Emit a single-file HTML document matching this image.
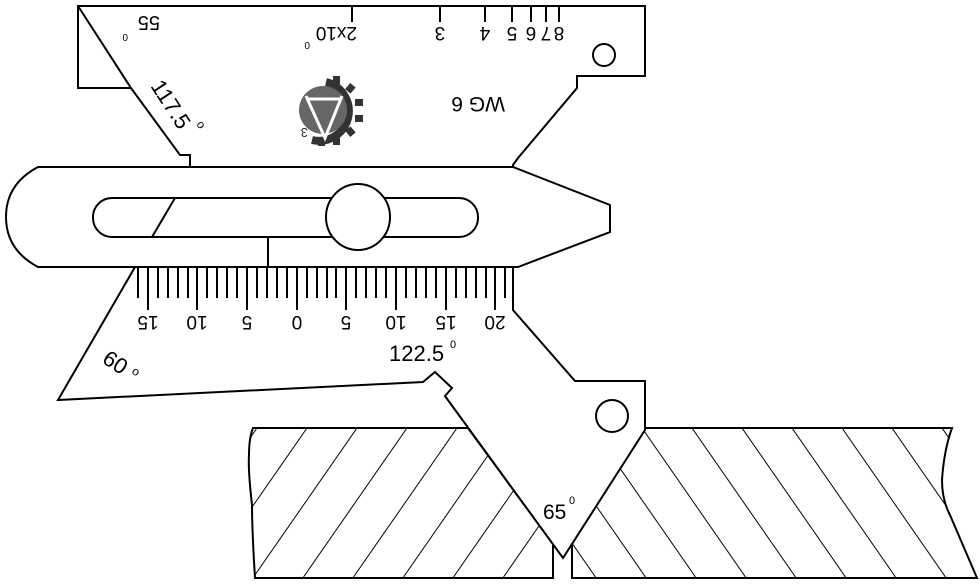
<!DOCTYPE html>
<html><head><meta charset="utf-8"><style>
html,body{margin:0;padding:0;background:#fff;}
svg{display:block;}
text{font-family:"Liberation Sans",Arial,sans-serif;fill:#000;}
</style></head><body>
<svg width="980" height="586" viewBox="0 0 980 586" xmlns="http://www.w3.org/2000/svg">
<defs>
<pattern id="hl" patternUnits="userSpaceOnUse" x="257" y="428" width="50" height="72">
<line x1="0" y1="72" x2="50" y2="0" stroke="#000" stroke-width="1"/>
<line x1="-50" y1="72" x2="0" y2="0" stroke="#000" stroke-width="1"/>
<line x1="50" y1="72" x2="100" y2="0" stroke="#000" stroke-width="1"/>
</pattern>
<pattern id="hr" patternUnits="userSpaceOnUse" x="692" y="428" width="50" height="72">
<line x1="0" y1="0" x2="50" y2="72" stroke="#000" stroke-width="1"/>
<line x1="-50" y1="0" x2="0" y2="72" stroke="#000" stroke-width="1"/>
<line x1="50" y1="0" x2="100" y2="72" stroke="#000" stroke-width="1"/>
</pattern>
</defs>
<g stroke="#000" stroke-width="2" fill="none">
<path d="M253,428 L468,428 L553,544 L553,578 L255,578 Q252,530 252,505 Q248,470 249,455 Q249,438 253,428 Z" fill="url(#hl)"/>
<path d="M645,428 L952,428 Q944,450 942,480 Q942,500 950,515 Q965,550 977,578 L572,578 L572,544 Z" fill="url(#hr)"/>
<path d="M135,267 L58,400 L423,382 L435,372 L452,388 L445,396 L563,558 L645,430 L645,381 L575,381 L513,310 L513,267 Z" fill="#fff"/>
<path d="M78,6 L645,6 L645,76 L577,76 L577,88 L518,158 L513,165 L513,170 L190,170 L190,155 L180,155 L131,88 L78,88 Z" fill="#fff"/>
<line x1="78" y1="6" x2="131" y2="88"/>
<line x1="577" y1="76" x2="645" y2="76"/>
<circle cx="604" cy="55" r="11"/>
<path d="M38,167 L513,167 L610,205 L610,232 L518,267 L38,267 Q6,250 6,217 Q6,184 38,167 Z" fill="#fff"/>
<rect x="93" y="198" width="385" height="39" rx="19" fill="#fff"/>
<line x1="175" y1="198" x2="152" y2="237"/>
<line x1="268" y1="237" x2="268" y2="267"/>
<ellipse cx="358" cy="217" rx="32" ry="33" fill="#fff"/>
<circle cx="612" cy="416" r="16"/>
<line x1="352" y1="6" x2="352" y2="22"/>
<line x1="440" y1="6" x2="440" y2="22"/>
<line x1="485" y1="6" x2="485" y2="22"/>
<line x1="512" y1="6" x2="512" y2="22"/>
<line x1="531" y1="6" x2="531" y2="22"/>
<line x1="546" y1="6" x2="546" y2="22"/>
<line x1="559" y1="6" x2="559" y2="22"/>
</g>
<g stroke="#000" stroke-width="2">
<line x1="138" y1="267" x2="138" y2="298"/><line x1="148" y1="267" x2="148" y2="310"/>
<line x1="158" y1="267" x2="158" y2="298"/><line x1="168" y1="267" x2="168" y2="298"/>
<line x1="178" y1="267" x2="178" y2="298"/><line x1="188" y1="267" x2="188" y2="298"/>
<line x1="197" y1="267" x2="197" y2="310"/><line x1="207" y1="267" x2="207" y2="298"/>
<line x1="217" y1="267" x2="217" y2="298"/><line x1="227" y1="267" x2="227" y2="298"/>
<line x1="237" y1="267" x2="237" y2="298"/><line x1="247" y1="267" x2="247" y2="310"/>
<line x1="257" y1="267" x2="257" y2="298"/><line x1="267" y1="267" x2="267" y2="298"/>
<line x1="277" y1="267" x2="277" y2="298"/><line x1="287" y1="267" x2="287" y2="298"/>
<line x1="297" y1="267" x2="297" y2="310"/><line x1="307" y1="267" x2="307" y2="298"/>
<line x1="317" y1="267" x2="317" y2="298"/><line x1="327" y1="267" x2="327" y2="298"/>
<line x1="336" y1="267" x2="336" y2="298"/><line x1="346" y1="267" x2="346" y2="310"/>
<line x1="356" y1="267" x2="356" y2="298"/><line x1="366" y1="267" x2="366" y2="298"/>
<line x1="376" y1="267" x2="376" y2="298"/><line x1="386" y1="267" x2="386" y2="298"/>
<line x1="396" y1="267" x2="396" y2="310"/><line x1="406" y1="267" x2="406" y2="298"/>
<line x1="416" y1="267" x2="416" y2="298"/><line x1="426" y1="267" x2="426" y2="298"/>
<line x1="436" y1="267" x2="436" y2="298"/><line x1="446" y1="267" x2="446" y2="310"/>
<line x1="456" y1="267" x2="456" y2="298"/><line x1="466" y1="267" x2="466" y2="298"/>
<line x1="476" y1="267" x2="476" y2="298"/><line x1="486" y1="267" x2="486" y2="298"/>
<line x1="495" y1="267" x2="495" y2="310"/><line x1="505" y1="267" x2="505" y2="298"/>
</g>
<g font-size="19">
<text transform="translate(148,316) rotate(180)" text-anchor="middle">15</text>
<text transform="translate(197,316) rotate(180)" text-anchor="middle">10</text>
<text transform="translate(247,316) rotate(180)" text-anchor="middle">5</text>
<text transform="translate(297,316) rotate(180)" text-anchor="middle">0</text>
<text transform="translate(346,316) rotate(180)" text-anchor="middle">5</text>
<text transform="translate(396,316) rotate(180)" text-anchor="middle">10</text>
<text transform="translate(446,316) rotate(180)" text-anchor="middle">15</text>
<text transform="translate(495,316) rotate(180)" text-anchor="middle">20</text>
<text transform="translate(440,27) rotate(180)" text-anchor="middle">3</text>
<text transform="translate(485,27) rotate(180)" text-anchor="middle">4</text>
<text transform="translate(512,27) rotate(180)" text-anchor="middle">5</text>
<text transform="translate(531,27) rotate(180)" text-anchor="middle">6</text>
<text transform="translate(546,27) rotate(180)" text-anchor="middle">7</text>
<text transform="translate(559,27) rotate(180)" text-anchor="middle">8</text>
<text transform="translate(357,27) rotate(180)" text-anchor="start">2x10</text>
<text transform="translate(310,42) rotate(180)" font-size="10">0</text>
<text transform="translate(160,16) rotate(180)" text-anchor="start" font-size="20">55</text>
<text transform="translate(128,34) rotate(180)" font-size="10">0</text>
<text transform="translate(505,97) rotate(180)" text-anchor="start" font-size="21">WG 6</text>
<text transform="translate(150,86) rotate(57)" font-size="22">117.5</text>
<text transform="translate(196,124) rotate(57)" font-size="12">o</text>
<text transform="translate(101,362) rotate(33)" font-size="22">60</text>
<text transform="translate(131,373) rotate(33)" font-size="12">o</text>
<text x="389" y="361" font-size="22">122.5</text>
<text x="450" y="348" font-size="11">0</text>
<text x="543" y="519" font-size="21">65</text>
<text x="569" y="504" font-size="11">0</text>
</g>
<g>
<path d="M326,82 A28,28 0 1 1 312,140" stroke="#333" stroke-width="8" fill="none"/>
<g fill="#333">
<rect x="333" y="76" width="7" height="8"/><rect x="347" y="84" width="7" height="8" transform="rotate(40 350 88)"/>
<rect x="355" y="99" width="8" height="7"/><rect x="355" y="115" width="8" height="7"/>
<rect x="347" y="128" width="7" height="8" transform="rotate(-40 350 132)"/><rect x="333" y="137" width="7" height="8"/>
<rect x="318" y="138" width="7" height="8"/>
</g>
<circle cx="323" cy="110" r="24" fill="#666"/>
<path d="M306,96 L325,138 L342,96 M307,99 L341,99" stroke="#fff" stroke-width="3" fill="none"/>
<text transform="translate(308,128) rotate(180)" font-size="13" style="fill:#333">3</text>
</g>
</svg>
</body></html>
